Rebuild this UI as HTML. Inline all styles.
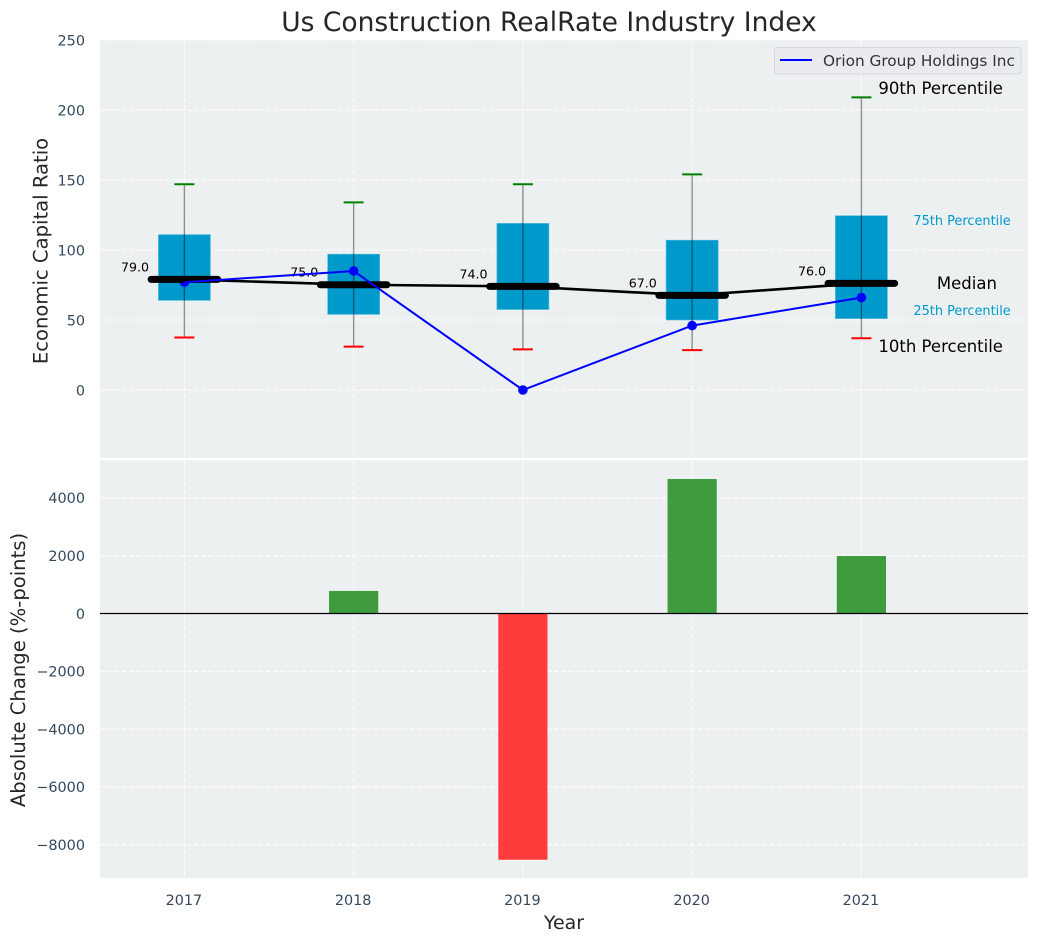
<!DOCTYPE html>
<html>
<head>
<meta charset="utf-8">
<title>Us Construction RealRate Industry Index</title>
<style>
html,body{margin:0;padding:0;background:#fff;width:1039px;height:942px;overflow:hidden}
svg{display:block;font-family:"DejaVu Sans","Liberation Sans",sans-serif}
</style>
</head>
<body>
<svg id="chart" width="1039" height="942" viewBox="0 0 1039 942" xmlns="http://www.w3.org/2000/svg">
<g id="root"></g>
</svg>
<script>
const years = [2017, 2018, 2019, 2020, 2021];
const p90 = [147, 134, 147, 154, 209];
const p75 = [111, 97, 119, 107, 124.5];
const medians = [79, 75.2, 74, 67.6, 76.2];
const medianLabels = ["79.0", "75.0", "74.0", "67.0", "76.0"];
const p25 = [64, 54, 57.5, 50, 51];
const p10 = [37.5, 31, 29, 28.5, 37];
const company = [77, 85, 0, 46, 66];
const changes = [0, 780, -8520, 4654, 1990];
const topTicks = [0, 50, 100, 150, 200, 250];
const bottomTicks = [-8000, -6000, -4000, -2000, 0, 2000, 4000];

const NS = 'http://www.w3.org/2000/svg';
const root = document.getElementById('root');
function xPos(year) { return 184.4 + (year - 2017) * 169.25; }
function yTop(v) { return 390 - v * 1.4; }
function yBottom(v) { return 613.5 - v * 0.0289; }
function el(tag, attrs, parent) {
  const e = document.createElementNS(NS, tag);
  for (const k in attrs) e.setAttribute(k, attrs[k]);
  (parent || root).appendChild(e);
  return e;
}
function txt(content, attrs) {
  const e = el('text', attrs);
  e.textContent = content;
  return e;
}
function named(e, name, inter) {
  
  
  return e;
}
const axL = 100, axR = 1028;
const topA = 40, topB = 458, botA = 460.5, botB = 878;

named(el('rect', {x: axL, y: topA, width: axR - axL, height: topB - topA, fill: '#ecf0f1'}), 'top-plot-background');
named(el('rect', {x: axL, y: botA, width: axR - axL, height: botB - botA, fill: '#ecf0f1'}), 'bottom-plot-background');

const grid = {stroke: '#ffffff', 'stroke-width': 1.1, 'stroke-dasharray': '5 2.2', opacity: 0.9};
topTicks.forEach(function (t) {
  const y = yTop(t);
  named(el('line', Object.assign({x1: axL, x2: axR, y1: y, y2: y}, grid)), 'top-y-gridline');
  const lab = txt(String(t), {x: 85, y: y + 5.3, 'text-anchor': 'end', 'font-size': 14.4, fill: '#34495e'});
  named(lab, 'top-y-tick-label');
});
bottomTicks.forEach(function (t) {
  const y = yBottom(t);
  named(el('line', Object.assign({x1: axL, x2: axR, y1: y, y2: y}, grid)), 'bottom-y-gridline');
  const lab = txt(String(t).replace('-', '\u2212'), {x: 85, y: y + 5.3, 'text-anchor': 'end', 'font-size': 14.4, fill: '#34495e'});
  named(lab, 'bottom-y-tick-label');
});
years.forEach(function (yr) {
  const x = xPos(yr);
  named(el('line', Object.assign({x1: x, x2: x, y1: topA, y2: topB}, grid)), 'top-x-gridline');
  named(el('line', Object.assign({x1: x, x2: x, y1: botA, y2: botB}, grid)), 'bottom-x-gridline');
  const lab = txt(String(yr), {x: x - 0.5, y: 905, 'text-anchor': 'middle', 'font-size': 14.4, fill: '#34495e'});
  named(lab, 'x-tick-label');
});

/* boxes */
years.forEach(function (yr, i) {
  const x = xPos(yr);
  named(el('rect', {x: x - 26, y: yTop(p75[i]), width: 52, height: yTop(p25[i]) - yTop(p75[i]), fill: '#0099cc', stroke: '#52b8da', 'stroke-width': 0.6}), 'box-' + yr);
});
/* whiskers */
years.forEach(function (yr, i) {
  const x = xPos(yr);
  named(el('line', {x1: x, x2: x, y1: yTop(p90[i]), y2: yTop(p10[i]), stroke: '#000000', 'stroke-opacity': 0.42, 'stroke-width': 1.4}), 'whisker-' + yr);
  named(el('line', {x1: x - 10, x2: x + 10, y1: yTop(p90[i]), y2: yTop(p90[i]), stroke: '#008000', 'stroke-width': 2}), 'cap-90th-' + yr);
  named(el('line', {x1: x - 10, x2: x + 10, y1: yTop(p10[i]), y2: yTop(p10[i]), stroke: '#ff0000', 'stroke-width': 2}), 'cap-10th-' + yr);
});
/* company markers */
years.forEach(function (yr, i) {
  named(el('circle', {cx: xPos(yr), cy: yTop(company[i]), r: 4.8, fill: '#0000ff'}), 'company-point-' + yr);
});
/* median connecting line */
const medPts = years.map(function (yr, i) { return xPos(yr) + ',' + yTop(medians[i]); }).join(' ');
named(el('polyline', {points: medPts, fill: 'none', stroke: '#000000', 'stroke-width': 2.6}), 'median-line');
years.forEach(function (yr, i) {
  const x = xPos(yr), y = yTop(medians[i]);
  named(el('line', {x1: x - 33.3, x2: x + 33.3, y1: y, y2: y, stroke: '#000000', 'stroke-width': 7, 'stroke-linecap': 'round'}), 'median-bar-' + yr);
  const lab = txt(medianLabels[i], {x: x - 49.4, y: y - 8, 'text-anchor': 'middle', 'font-size': 12.6, fill: '#000000'});
  named(lab, 'median-label-' + yr);
});
/* company line */
const compPts = years.map(function (yr, i) { return xPos(yr) + ',' + yTop(company[i]); }).join(' ');
named(el('polyline', {points: compPts, fill: 'none', stroke: '#0000ff', 'stroke-width': 2}), 'company-line');

/* percentile annotations */
const annLastX = xPos(years[years.length - 1]);
named(txt('90th Percentile', {x: annLastX + 17, y: 94, 'font-size': 16.5, fill: '#000000'}), 'annotation-90th-percentile');
named(txt('75th Percentile', {x: annLastX + 52, y: 225, 'font-size': 12.9, fill: '#0099cc'}), 'annotation-75th-percentile');
named(txt('Median', {x: annLastX + 75.5, y: 289, 'font-size': 16.5, fill: '#000000'}), 'annotation-median');
named(txt('25th Percentile', {x: annLastX + 52, y: 315, 'font-size': 12.9, fill: '#0099cc'}), 'annotation-25th-percentile');
named(txt('10th Percentile', {x: annLastX + 17, y: 352, 'font-size': 16.5, fill: '#000000'}), 'annotation-10th-percentile');

/* legend */
named(el('rect', {x: 774.5, y: 47.5, width: 246.5, height: 26.5, rx: 3, fill: '#e9ebf0', stroke: '#d5d7db', 'stroke-width': 1}), 'legend-box', true);
named(el('line', {x1: 780, x2: 812, y1: 60, y2: 60, stroke: '#0000ff', 'stroke-width': 2}), 'legend-line');
named(txt('Orion Group Holdings Inc', {x: 823, y: 66, 'font-size': 15.3, fill: '#333333'}), 'legend-label');

/* bars */
years.forEach(function (yr, i) {
  const v = changes[i];
  if (v === 0) return;
  const x = xPos(yr), y0 = yBottom(0), y1 = yBottom(v);
  named(el('rect', {x: x - 24.6, y: Math.min(y0, y1), width: 49.2, height: Math.abs(y1 - y0), fill: v > 0 ? '#3e9c3e' : '#ff3c3c'}), 'change-bar-' + yr);
});
named(el('line', {x1: axL, x2: axR, y1: yBottom(0), y2: yBottom(0), stroke: '#000000', 'stroke-width': 1.3}), 'zero-line');

/* titles */
named(txt('Us Construction RealRate Industry Index', {x: 549, y: 31, 'text-anchor': 'middle', 'font-size': 26.5, fill: '#262626'}), 'chart-title');
named(txt('Economic Capital Ratio', {x: 0, y: 0, transform: 'translate(47.5 251) rotate(-90)', 'text-anchor': 'middle', 'font-size': 19.6, fill: '#262626'}), 'top-y-axis-title');
named(txt('Absolute Change (%-points)', {x: 0, y: 0, transform: 'translate(25 670) rotate(-90)', 'text-anchor': 'middle', 'font-size': 19.6, fill: '#262626'}), 'bottom-y-axis-title');
named(txt('Year', {x: 564, y: 929, 'text-anchor': 'middle', 'font-size': 19, fill: '#262626'}), 'x-axis-title');
</script>
</body>
</html>
